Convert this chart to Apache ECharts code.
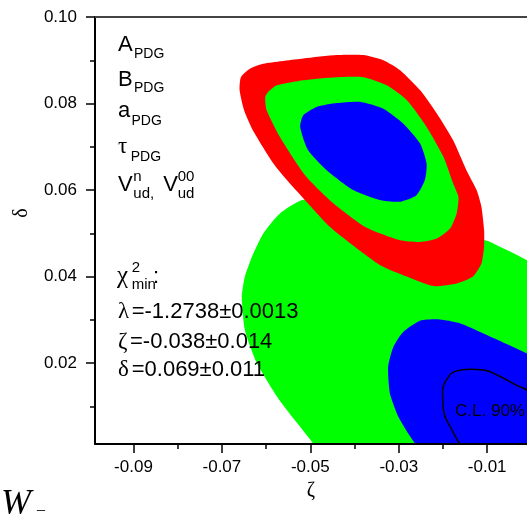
<!DOCTYPE html>
<html><head><meta charset="utf-8">
<script src="https://cdn.jsdelivr.net/npm/echarts@6/dist/echarts.min.js"></script>
<style>html,body{margin:0;padding:0;background:#fff}#c{width:527px;height:514px}</style>
</head><body><div id="c"></div>
<script>
// axis ranges and ticks
const xRange = [-0.0987, -0.0010];
const yRange = [0.0013, 0.10];
const xLabelTicks = [-0.09, -0.07, -0.05, -0.03, -0.01];
const xMinorTicks = [-0.08, -0.06, -0.04, -0.02];
const yLabelTicks = [0.02, 0.04, 0.06, 0.08, 0.10];
const yMinorTicks = [0.01, 0.03, 0.05, 0.07, 0.09];

// contour regions [zeta, delta]
const lowerGreen = [
  [-0.0465, -0.0045], [-0.0478, -0.0013], [-0.0493, 0.0013], [-0.0528, 0.0059], [-0.0573, 0.0119],
  [-0.0621, 0.0200], [-0.0648, 0.0276], [-0.0655, 0.0353], [-0.0648, 0.0400],
  [-0.0632, 0.0446], [-0.0606, 0.0500], [-0.0569, 0.0546], [-0.0519, 0.0577],
  [-0.0478, 0.0577], [-0.0297, 0.0450], [-0.0139, 0.0450], [-0.0107, 0.0484],
  [-0.0071, 0.0469], [-0.0010, 0.0438], [0.0030, 0.0415], [0.0100, 0.0380],
  [0.0100, -0.0045]
];
const redOuter = [
  [-0.0660, 0.0831], [-0.0657, 0.0861], [-0.0636, 0.0881], [-0.0606, 0.0892],
  [-0.0516, 0.0904], [-0.0440, 0.0912], [-0.0380, 0.0912], [-0.0335, 0.0900],
  [-0.0297, 0.0877], [-0.0252, 0.0831], [-0.0214, 0.0777], [-0.0177, 0.0715],
  [-0.0147, 0.0646], [-0.0124, 0.0600], [-0.0113, 0.0561], [-0.0107, 0.0507],
  [-0.0107, 0.0469], [-0.0113, 0.0430], [-0.0132, 0.0400], [-0.0169, 0.0384],
  [-0.0222, 0.0378], [-0.0282, 0.0400], [-0.0343, 0.0427], [-0.0410, 0.0477],
  [-0.0456, 0.0515], [-0.0516, 0.0581], [-0.0553, 0.0623], [-0.0584, 0.0662],
  [-0.0630, 0.0738], [-0.0650, 0.0785]
];
const greenRing = [
  [-0.0602, 0.0815], [-0.0595, 0.0827], [-0.0576, 0.0842], [-0.0516, 0.0854],
  [-0.0440, 0.0861], [-0.0380, 0.0861], [-0.0327, 0.0842], [-0.0282, 0.0808],
  [-0.0237, 0.0746], [-0.0199, 0.0677], [-0.0177, 0.0615], [-0.0165, 0.0584],
  [-0.0169, 0.0546], [-0.0184, 0.0511], [-0.0214, 0.0488], [-0.0252, 0.0480],
  [-0.0297, 0.0484], [-0.0343, 0.0500], [-0.0380, 0.0517], [-0.0449, 0.0570],
  [-0.0512, 0.0634], [-0.0569, 0.0723], [-0.0599, 0.0785]
];
const blueInner = [
  [-0.0523, 0.0746], [-0.0516, 0.0773], [-0.0486, 0.0792], [-0.0440, 0.0801],
  [-0.0388, 0.0804], [-0.0335, 0.0788], [-0.0290, 0.0754], [-0.0252, 0.0708],
  [-0.0237, 0.0661], [-0.0241, 0.0623], [-0.0260, 0.0588], [-0.0297, 0.0573],
  [-0.0343, 0.0577], [-0.0403, 0.0600], [-0.0463, 0.0646], [-0.0505, 0.0692]
];
const blueLower = [
  [0.0100, 0.0170], [0.0030, 0.0200], [-0.0011, 0.0223], [-0.0101, 0.0265], [-0.0165, 0.0293],
  [-0.0207, 0.0301], [-0.0252, 0.0298], [-0.0290, 0.0272], [-0.0312, 0.0238],
  [-0.0324, 0.0192], [-0.0320, 0.0130], [-0.0301, 0.0076], [-0.0279, 0.0038],
  [-0.0254, 0.0000], [-0.0240, -0.0030], [0.0100, -0.0030]
];
const cl90 = [
  [-0.0157, 0.0005], [-0.0180, 0.0046], [-0.0199, 0.0092], [-0.0201, 0.0130],
  [-0.0192, 0.0161], [-0.0169, 0.0182], [-0.0139, 0.0186], [-0.0109, 0.0184],
  [-0.0071, 0.0169], [-0.0034, 0.0149], [-0.0010, 0.0138], [0.0019, 0.0122]
];

const chart = echarts.init(document.getElementById('c'));
const SANS = 'Liberation Sans, Arial, sans-serif';
const SERIF = 'Liberation Serif, Times New Roman, serif';

function polySeries(pts, color) {
  return {
    type: 'custom', clip: true, silent: true,
    data: [[-0.05, 0.05]],
    renderItem: function (params, api) {
      return {
        type: 'polygon',
        shape: { points: pts.map(p => api.coord(p)), smooth: 0.2 },
        style: { fill: color }
      };
    }
  };
}

function txt(text, x, y, size, family, extra) {
  return Object.assign({
    type: 'text', x: x, y: y, z: 100,
    style: { text: text, font: size + 'px ' + family, fill: '#000', align: 'left', verticalAlign: 'middle' }
  }, extra || {});
}

const fmt = v => v.toFixed(2);

chart.setOption({
  animation: false,
  grid: { left: 95, top: 17, right: 0, bottom: 70 },
  xAxis: [
    { type: 'value', min: xRange[0], max: xRange[1], position: 'bottom', z: 10,
      axisLine: { show: true, onZero: false, lineStyle: { color: '#000', width: 2 } },
      axisTick: { show: true, length: 9, customValues: xLabelTicks, lineStyle: { color: '#000', width: 1.5 } },
      axisLabel: { customValues: xLabelTicks, formatter: fmt, margin: 15, fontSize: 17, color: '#000', fontFamily: SANS },
      splitLine: { show: false },
      name: 'ζ', nameLocation: 'middle', nameGap: 33,
      nameTextStyle: { fontFamily: SERIF, fontSize: 20, color: '#000' } },
    { type: 'value', min: xRange[0], max: xRange[1], position: 'bottom', z: 10,
      axisLine: { show: false },
      axisTick: { show: true, length: 5, customValues: xMinorTicks, lineStyle: { color: '#000', width: 1.5 } },
      axisLabel: { show: false }, splitLine: { show: false } },
    { type: 'value', min: xRange[0], max: xRange[1], position: 'top', z: 10,
      axisLine: { show: true, onZero: false, lineStyle: { color: '#444', width: 2 } },
      axisTick: { show: false }, axisLabel: { show: false }, splitLine: { show: false } }
  ],
  yAxis: [
    { type: 'value', min: yRange[0], max: yRange[1], position: 'left', z: 10,
      axisLine: { show: true, onZero: false, lineStyle: { color: '#000', width: 2 } },
      axisTick: { show: true, length: 9, customValues: yLabelTicks, lineStyle: { color: '#000', width: 1.5 } },
      axisLabel: { customValues: yLabelTicks, formatter: fmt, margin: 18, fontSize: 17, color: '#000', fontFamily: SANS },
      splitLine: { show: false } },
    { type: 'value', min: yRange[0], max: yRange[1], position: 'left', z: 10,
      axisLine: { show: false },
      axisTick: { show: true, length: 5, customValues: yMinorTicks, lineStyle: { color: '#000', width: 1.5 } },
      axisLabel: { show: false }, splitLine: { show: false } }
  ],
  series: [
    polySeries(lowerGreen, '#00ff00'),
    polySeries(redOuter, '#ff0000'),
    polySeries(greenRing, '#00ff00'),
    polySeries(blueInner, '#0000ff'),
    polySeries(blueLower, '#0000ff'),
    { type: 'line', data: cl90, showSymbol: false, smooth: true, silent: true,
      lineStyle: { color: '#000', width: 1.5 } }
  ],
  graphic: [
    txt('δ', 22, 213, 20, SERIF, { rotation: Math.PI / 2, style: { text: 'δ', font: '20px ' + SERIF, fill: '#000', align: 'center', verticalAlign: 'middle' } }),
    txt('A', 118, 45, 22, SANS), txt('PDG', 134, 54.4, 14, SANS),
    txt('B', 118, 79.6, 22, SANS), txt('PDG', 134, 87.8, 14, SANS),
    txt('a', 118, 110.6, 22, SANS), txt('PDG', 131.5, 121.1, 14, SANS),
    txt('τ', 118, 147.4, 23, SERIF), txt('PDG', 130.7, 156.8, 14, SANS),
    txt('V', 118, 185.3, 22, SANS), txt('n', 133.3, 176.5, 15, SANS), txt('ud,', 133.3, 194.1, 15, SANS),
    txt('V', 163.3, 185.3, 22, SANS), txt('00', 177.7, 176.5, 15, SANS), txt('ud', 177.7, 194.1, 15, SANS),
    txt('χ', 117, 276.9, 25, SERIF), txt('2', 131.7, 267.8, 15, SANS), txt('min', 131.7, 284.8, 15, SANS),
    txt(':', 153, 277.3, 22, SANS),
    txt('λ', 118, 312.3, 23, SERIF), txt('=-1.2738±0.0013', 131.7, 312.3, 22, SANS),
    txt('ζ', 118, 341.6, 23, SERIF), txt('=-0.038±0.014', 130, 341.6, 22, SANS),
    txt('δ', 118, 370.3, 23, SERIF), txt('=0.069±0.011', 131.7, 370.3, 22, SANS),
    txt('C.L. 90%', 490, 411, 17, SANS, { style: { text: 'C.L. 90%', font: '17px ' + SANS, fill: '#000', align: 'center', verticalAlign: 'middle' } }),
    txt('W', 1, 505, 36, SERIF, { style: { text: 'W', font: 'italic 36px ' + SERIF, fill: '#000', align: 'left', verticalAlign: 'middle' } }),
    txt('–', 37, 510, 16, SERIF)
  ]
});
</script></body></html>
